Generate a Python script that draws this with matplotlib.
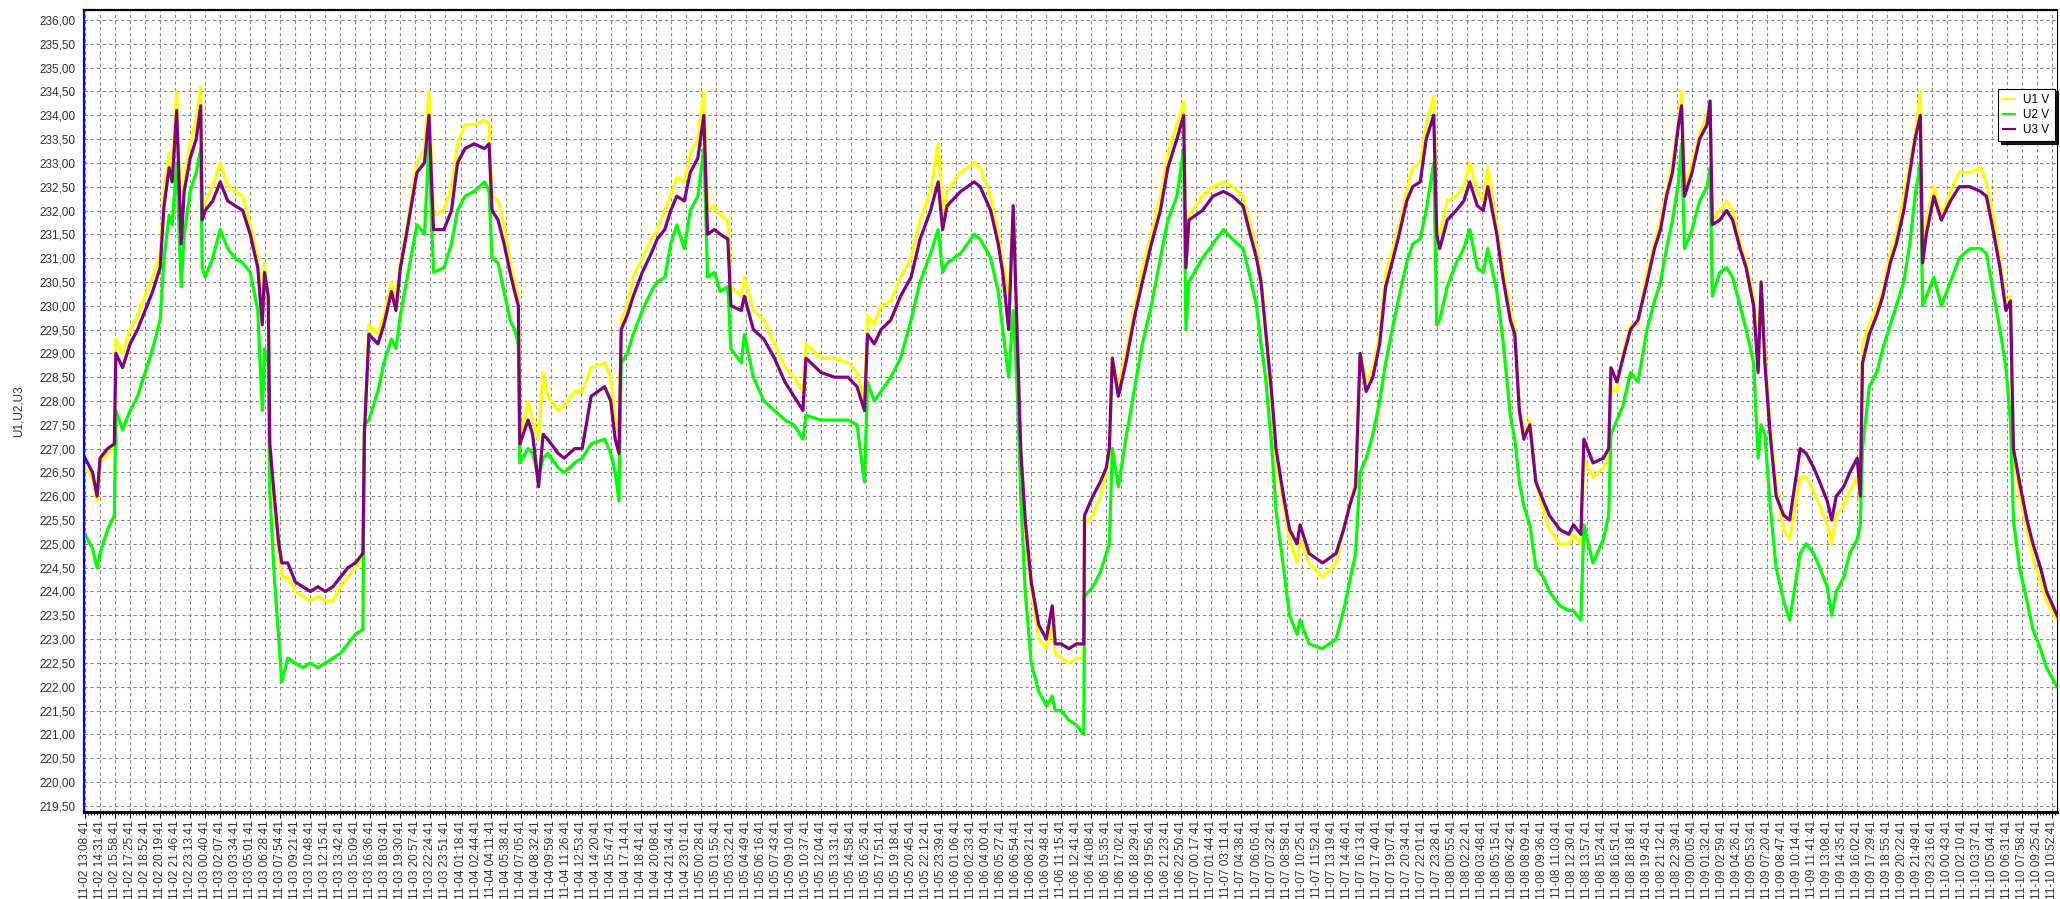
import numpy as np
import matplotlib.pyplot as plt
from matplotlib.ticker import FixedLocator, MultipleLocator

# tick labels (one every ~87 min)
tick_labels = [
    "11-02 13:08:41", "11-02 14:31:41", "11-02 15:58:41", "11-02 17:25:41", "11-02 18:52:41",
    "11-02 20:19:41", "11-02 21:46:41", "11-02 23:13:41",
    "11-03 00:40:41", "11-03 02:07:41", "11-03 03:34:41", "11-03 05:01:41", "11-03 06:28:41",
    "11-03 07:54:41", "11-03 09:21:41", "11-03 10:48:41", "11-03 12:15:41", "11-03 13:42:41",
    "11-03 15:09:41", "11-03 16:36:41", "11-03 18:03:41", "11-03 19:30:41", "11-03 20:57:41",
    "11-03 22:24:41", "11-03 23:51:41",
    "11-04 01:18:41", "11-04 02:44:41", "11-04 04:11:41", "11-04 05:38:41", "11-04 07:05:41",
    "11-04 08:32:41", "11-04 09:59:41", "11-04 11:26:41", "11-04 12:53:41", "11-04 14:20:41",
    "11-04 15:47:41", "11-04 17:14:41", "11-04 18:41:41", "11-04 20:08:41", "11-04 21:34:41",
    "11-04 23:01:41",
    "11-05 00:28:41", "11-05 01:55:41", "11-05 03:22:41", "11-05 04:49:41", "11-05 06:16:41",
    "11-05 07:43:41", "11-05 09:10:41", "11-05 10:37:41", "11-05 12:04:41", "11-05 13:31:41",
    "11-05 14:58:41", "11-05 16:25:41", "11-05 17:51:41", "11-05 19:18:41", "11-05 20:45:41",
    "11-05 22:12:41", "11-05 23:39:41",
    "11-06 01:06:41", "11-06 02:33:41", "11-06 04:00:41", "11-06 05:27:41", "11-06 06:54:41",
    "11-06 08:21:41", "11-06 09:48:41", "11-06 11:15:41", "11-06 12:41:41", "11-06 14:08:41",
    "11-06 15:35:41", "11-06 17:02:41", "11-06 18:29:41", "11-06 19:56:41", "11-06 21:23:41",
    "11-06 22:50:41",
    "11-07 00:17:41", "11-07 01:44:41", "11-07 03:11:41", "11-07 04:38:41", "11-07 06:05:41",
    "11-07 07:32:41", "11-07 08:58:41", "11-07 10:25:41", "11-07 11:52:41", "11-07 13:19:41",
    "11-07 14:46:41", "11-07 16:13:41", "11-07 17:40:41", "11-07 19:07:41", "11-07 20:34:41",
    "11-07 22:01:41", "11-07 23:28:41",
    "11-08 00:55:41", "11-08 02:22:41", "11-08 03:48:41", "11-08 05:15:41", "11-08 06:42:41",
    "11-08 08:09:41", "11-08 09:36:41", "11-08 11:03:41", "11-08 12:30:41", "11-08 13:57:41",
    "11-08 15:24:41", "11-08 16:51:41", "11-08 18:18:41", "11-08 19:45:41", "11-08 21:12:41",
    "11-08 22:39:41",
    "11-09 00:05:41", "11-09 01:32:41", "11-09 02:59:41", "11-09 04:26:41", "11-09 05:53:41",
    "11-09 07:20:41", "11-09 08:47:41", "11-09 10:14:41", "11-09 11:41:41", "11-09 13:08:41",
    "11-09 14:35:41", "11-09 16:02:41", "11-09 17:29:41", "11-09 18:55:41", "11-09 20:22:41",
    "11-09 21:49:41", "11-09 23:16:41",
    "11-10 00:43:41", "11-10 02:10:41", "11-10 03:37:41", "11-10 05:04:41", "11-10 06:31:41",
    "11-10 07:58:41", "11-10 09:25:41", "11-10 10:52:41",
]

# sample position, in units of the label interval (label i sits at i)
pos = [
    0.0, 0.5, 0.8, 1.0, 1.5, 1.95, 2.05, 2.5, 3.0, 3.5, 4.0, 4.5, 5.0, 5.26, 5.6, 5.8, 6.1, 6.4, 6.6,
    7.0, 7.4, 7.7, 7.8, 8.0, 8.5, 9.0, 9.5, 10.0, 10.5, 11.0, 11.5, 11.8, 11.95, 12.2, 12.3, 12.6,
    12.9, 13.1, 13.5, 14.0, 14.5, 15.0, 15.5, 16.0, 16.5, 17.0, 17.5, 18.0, 18.5, 18.6, 18.9, 19.5,
    19.9, 20.4, 20.7, 21.0, 21.4, 22.1, 22.6, 22.9, 23.2, 23.9, 24.4, 24.8, 25.3, 25.9, 26.6, 26.9,
    27.1, 27.5, 27.9, 28.3, 28.6, 28.85, 28.95, 29.5, 29.8, 30.2, 30.5, 30.8, 31.5, 31.9, 32.6, 33.1,
    33.7, 34.6, 35.0, 35.3, 35.55, 35.7, 36.1, 36.5, 37.1, 37.7, 38.1, 38.6, 39.0, 39.4, 39.9, 40.3,
    40.8, 41.2, 41.45, 41.9, 42.3, 42.8, 43.0, 43.7, 43.9, 44.5, 45.2, 45.9, 46.6, 47.2, 47.8, 48.0,
    49.0, 49.9, 50.8, 51.4, 51.9, 52.1, 52.55, 53.0, 53.65, 54.3, 55.0, 55.6, 56.3, 56.8, 57.1, 57.4,
    58.3, 59.2, 59.6, 60.3, 60.8, 61.1, 61.5, 61.8, 62.1, 62.3, 62.6, 63.0, 63.5, 64.0, 64.4, 64.6,
    65.0, 65.5, 66.0, 66.5, 66.55, 67.1, 67.6, 68.0, 68.2, 68.4, 68.8, 69.3, 69.9, 70.4, 71.0, 71.6,
    72.1, 72.7, 73.15, 73.3, 73.5, 74.4, 75.1, 75.8, 76.4, 77.1, 77.5, 78.0, 78.3, 78.6, 79.0, 79.3,
    79.8, 80.2, 80.7, 80.9, 81.5, 82.4, 83.3, 83.8, 84.2, 84.6, 84.9, 85.3, 85.75, 86.2, 86.6, 87.1,
    87.5, 88.0, 88.4, 88.9, 89.3, 89.8, 90.0, 90.2, 90.7, 91.3, 91.8, 92.2, 92.7, 93.1, 93.4, 94.0,
    94.4, 94.9, 95.2, 95.5, 95.8, 96.2, 96.6, 97.1, 97.5, 98.2, 98.8, 99.1, 99.6, 99.8, 100.4, 101.1,
    101.45, 101.6, 102.0, 102.4, 102.9, 103.4, 104.0, 104.5, 104.9, 105.3, 105.7, 106.1, 106.3,
    106.5, 107.0, 107.5, 108.0, 108.2, 108.35, 108.85, 109.3, 109.7, 110.2, 110.6, 111.1, 111.4,
    111.6, 111.85, 112.2, 112.6, 113.1, 113.5, 114.2, 114.6, 115.1, 115.5, 116.0, 116.3, 116.6,
    117.1, 117.5, 118.0, 118.2, 118.35, 118.8, 119.3, 119.7, 120.2, 120.6, 121.1, 121.5, 121.85,
    122.2, 122.35, 122.6, 123.1, 123.6, 124.2, 124.8, 125.5, 126.2, 126.6, 127.1, 127.5, 127.9,
    128.2, 128.4, 128.8, 129.3, 129.7, 130.2, 130.6, 131.3,
]

u1 = [
    226.6, 226.4, 225.9, 226.7, 226.9, 227.0, 229.3, 229.0, 229.5, 229.8, 230.2, 230.6, 231.1, 232.4, 233.2, 232.9, 234.5, 231.5, 232.7,
    233.4, 233.9, 234.6, 232.0, 232.2, 232.5, 233.0, 232.5, 232.4, 232.3, 231.7, 231.0, 229.8, 230.9, 230.0, 227.2, 225.8,
    224.8, 224.3, 224.3, 224.0, 223.9, 223.8, 223.9, 223.8, 223.8, 224.1, 224.3, 224.5, 224.7, 227.3, 229.6, 229.4,
    229.8, 230.5, 230.1, 230.9, 231.6, 233.0, 233.3, 234.5, 231.9, 232.0, 232.5, 233.4, 233.8, 233.8, 233.9, 233.8,
    232.3, 232.2, 231.7, 230.9, 230.5, 230.2, 227.2, 228.0, 227.6, 227.2, 228.6, 228.1, 227.8, 227.9, 228.2, 228.2,
    228.7, 228.8, 228.5, 227.6, 227.3, 229.7, 230.0, 230.6, 231.0, 231.4, 231.6, 232.0, 232.3, 232.7, 232.6, 233.2,
    233.5, 234.5, 232.0, 232.1, 231.9, 231.8, 230.4, 230.2, 230.6, 229.9, 229.7, 229.2, 228.7, 228.5, 228.2, 229.2,
    228.9, 228.9, 228.8, 228.6, 228.0, 229.8, 229.6, 230.0, 230.1, 230.6, 231.0, 231.8, 232.4, 233.4, 231.9, 232.4,
    232.8, 233.0, 232.9, 232.3, 231.5, 230.9, 230.2, 232.0, 229.0, 227.0, 225.3, 224.0, 223.0, 222.8, 223.3, 222.7,
    222.6, 222.5, 222.6, 222.6, 225.4, 225.6, 226.0, 226.5, 226.9, 228.9, 228.3, 229.0, 230.0, 230.8, 231.5, 232.3,
    233.2, 233.8, 234.3, 230.9, 231.9, 232.3, 232.5, 232.6, 232.5, 232.3, 231.8, 231.2, 230.6, 229.6, 228.0, 226.8,
    225.8, 225.1, 224.6, 225.1, 224.6, 224.3, 224.6, 225.3, 225.8, 226.3, 229.0, 228.4, 228.7, 229.4, 230.7, 231.2,
    231.7, 232.4, 232.9, 233.0, 233.8, 234.4, 231.6, 231.5, 232.2, 232.3, 232.5, 233.0, 232.4, 232.2, 232.9, 231.7,
    230.8, 229.9, 229.5, 227.9, 227.3, 227.6, 226.3, 225.7, 225.3, 225.0, 225.0, 225.2, 225.0, 226.8, 226.4, 226.6,
    226.8, 228.3, 228.2, 229.0, 229.6, 229.6, 230.7, 231.3, 231.8, 232.4, 233.0, 233.9, 234.5,
    232.5, 233.0, 233.6, 234.0, 234.3, 231.8, 232.0, 232.2, 232.0, 231.3, 230.9, 230.2, 228.8,
    230.5, 229.0, 227.5, 226.2, 225.3, 225.1, 226.4, 226.4, 226.1, 225.8, 225.4, 225.0, 225.6,
    225.8, 226.1, 226.4, 225.9, 229.2, 229.6, 230.0, 230.3, 231.1, 231.5, 232.3, 233.0, 233.6,
    234.5, 231.1, 231.8, 232.5, 231.9, 232.4, 232.8, 232.8, 232.9, 232.6, 231.8, 231.0, 230.0,
    230.2, 227.0, 226.0, 225.3, 224.7, 224.2, 223.8, 223.4,
]

u2 = [
    225.2, 224.9, 224.5, 224.8, 225.3, 225.6, 227.8, 227.4, 227.8, 228.1, 228.6, 229.1, 229.7, 231.0, 231.9, 231.7, 233.0, 230.4, 231.5,
    232.4, 232.8, 233.3, 230.8, 230.6, 231.0, 231.6, 231.2, 231.0, 230.9, 230.7, 229.9, 227.8, 229.1, 228.8, 226.1, 224.3,
    223.0, 222.1, 222.6, 222.5, 222.4, 222.5, 222.4, 222.5, 222.6, 222.7, 222.9, 223.1, 223.2, 227.5, 227.6, 228.2,
    228.8, 229.3, 229.1, 229.8, 230.5, 231.7, 231.5, 233.4, 230.7, 230.8, 231.3, 232.0, 232.3, 232.4, 232.6, 232.4,
    231.0, 230.9, 230.3, 229.7, 229.5, 229.2, 226.7, 227.0, 226.9, 226.4, 226.8, 226.9, 226.6, 226.5, 226.7, 226.8,
    227.1, 227.2, 226.9, 226.5, 225.9, 228.8, 229.0, 229.4, 229.9, 230.3, 230.5, 230.6, 231.3, 231.7, 231.2, 232.0,
    232.3, 233.3, 230.6, 230.7, 230.3, 230.4, 229.1, 228.8, 229.4, 228.5, 228.0, 227.8, 227.6, 227.5, 227.2, 227.7,
    227.6, 227.6, 227.6, 227.5, 226.3, 228.4, 228.0, 228.2, 228.5, 228.9, 229.7, 230.5, 231.1, 231.6, 230.7, 230.9,
    231.1, 231.5, 231.4, 231.0, 230.3, 229.5, 228.5, 229.9, 228.0, 226.0, 224.0, 222.5, 221.9, 221.6, 221.8, 221.5,
    221.5, 221.3, 221.2, 221.0, 223.9, 224.1, 224.4, 224.8, 225.0, 227.0, 226.2, 227.2, 228.3, 229.2, 230.0, 231.0,
    231.8, 232.3, 233.3, 229.5, 230.5, 231.0, 231.3, 231.6, 231.4, 231.2, 230.7, 230.0, 229.2, 228.5, 227.1, 225.7,
    224.5, 223.5, 223.1, 223.4, 222.9, 222.8, 223.0, 223.6, 224.2, 224.8, 226.5, 226.8, 227.3, 228.0, 228.8, 229.6,
    230.2, 230.9, 231.3, 231.4, 232.0, 233.0, 229.6, 229.7, 230.4, 230.9, 231.2, 231.6, 230.8, 230.7, 231.2, 230.3,
    229.3, 227.7, 227.2, 226.3, 225.8, 225.4, 224.5, 224.3, 224.0, 223.7, 223.6, 223.6, 223.4, 225.4, 224.6, 225.1,
    225.6, 227.3, 227.6, 227.9, 228.6, 228.4, 229.5, 230.1, 230.5, 231.2, 231.8, 232.6, 233.4,
    231.2, 231.6, 232.2, 232.5, 232.9, 230.2, 230.7, 230.8, 230.6, 230.0, 229.5, 228.8, 226.8,
    227.5, 227.3, 225.8, 224.5, 223.8, 223.4, 224.8, 225.0, 224.8, 224.5, 224.1, 223.5, 224.0,
    224.3, 224.8, 225.1, 225.4, 227.0, 228.3, 228.6, 229.1, 229.6, 230.0, 230.5, 231.3, 232.3,
    233.0, 230.0, 230.2, 230.6, 230.0, 230.5, 231.0, 231.2, 231.2, 231.1, 230.2, 229.5, 228.7,
    227.6, 225.5, 224.5, 223.8, 223.2, 222.8, 222.4, 222.0,
]

u3 = [
    226.8, 226.5, 226.0, 226.8, 227.0, 227.1, 229.0, 228.7, 229.2, 229.5, 229.9, 230.3, 230.8, 232.1, 232.9, 232.6, 234.1, 231.3, 232.4,
    233.1, 233.5, 234.2, 231.8, 232.0, 232.2, 232.6, 232.2, 232.1, 232.0, 231.5, 230.8, 229.6, 230.7, 230.2, 227.1, 226.0,
    225.0, 224.6, 224.6, 224.2, 224.1, 224.0, 224.1, 224.0, 224.1, 224.3, 224.5, 224.6, 224.8, 227.3, 229.4, 229.2,
    229.6, 230.3, 229.9, 230.8, 231.5, 232.8, 233.0, 234.0, 231.6, 231.6, 232.0, 233.0, 233.3, 233.4, 233.3, 233.4,
    232.0, 231.8, 231.3, 230.7, 230.3, 230.0, 227.1, 227.6, 227.3, 226.2, 227.3, 227.2, 226.9, 226.8, 227.0, 227.0,
    228.1, 228.3, 228.0, 227.2, 226.9, 229.5, 229.8, 230.2, 230.7, 231.1, 231.4, 231.6, 232.0, 232.3, 232.2, 232.8,
    233.1, 234.0, 231.5, 231.6, 231.5, 231.4, 230.0, 229.9, 230.2, 229.5, 229.3, 228.9, 228.4, 228.1, 227.8, 228.9,
    228.6, 228.5, 228.5, 228.3, 227.8, 229.4, 229.2, 229.5, 229.7, 230.2, 230.6, 231.4, 232.0, 232.6, 231.6, 232.1,
    232.4, 232.6, 232.5, 232.0, 231.3, 230.7, 229.5, 232.1, 229.0, 227.0, 225.5, 224.2, 223.3, 223.0, 223.7, 222.9,
    222.9, 222.8, 222.9, 222.9, 225.6, 226.0, 226.3, 226.6, 227.0, 228.9, 228.1, 228.8, 229.8, 230.5, 231.3, 232.0,
    232.9, 233.5, 234.0, 230.8, 231.8, 232.0, 232.3, 232.4, 232.3, 232.1, 231.6, 231.0, 230.5, 229.5, 228.2, 227.0,
    226.0, 225.3, 225.0, 225.4, 224.8, 224.6, 224.8, 225.3, 225.8, 226.2, 229.0, 228.2, 228.5, 229.2, 230.4, 231.0,
    231.5, 232.2, 232.5, 232.6, 233.5, 234.0, 231.5, 231.2, 231.8, 232.0, 232.2, 232.6, 232.1, 232.0, 232.5, 231.5,
    230.6, 229.7, 229.4, 227.8, 227.2, 227.5, 226.3, 225.9, 225.6, 225.3, 225.2, 225.4, 225.2, 227.2, 226.7, 226.8,
    227.0, 228.7, 228.4, 228.9, 229.5, 229.7, 230.5, 231.2, 231.6, 232.3, 232.8, 233.8, 234.2,
    232.3, 232.8, 233.5, 233.8, 234.3, 231.7, 231.8, 232.0, 231.8, 231.2, 230.8, 230.0, 228.6,
    230.5, 228.8, 227.3, 226.0, 225.6, 225.5, 227.0, 226.9, 226.6, 226.3, 225.9, 225.5, 226.0,
    226.2, 226.5, 226.8, 226.0, 228.8, 229.4, 229.8, 230.2, 230.9, 231.3, 232.0, 232.8, 233.5,
    234.0, 230.9, 231.5, 232.3, 231.8, 232.2, 232.5, 232.5, 232.4, 232.3, 231.5, 230.8, 229.9,
    230.1, 227.0, 226.3, 225.5, 225.0, 224.5, 224.0, 223.5,
]

series = [("U1 V", u1, "#ffff00"), ("U2 V", u2, "#00ff00"), ("U3 V", u3, "#800080")]

plt.rcParams['font.family'] = ['Liberation Sans', 'DejaVu Sans']

fig = plt.figure(figsize=(20.6, 8.99), dpi=100)
ax = fig.add_axes([84 / 2060, 87 / 899, 1973 / 2060, 802 / 899])

for name, vals, col in series:
    ax.plot(pos, vals, color=col, lw=2.3, label=name)

ax.set_xlim(-0.07, 131.3)
ax.set_ylim(219.37, 236.21)

ax.xaxis.set_major_locator(FixedLocator(np.arange(len(tick_labels))))
ax.set_xticklabels(tick_labels, rotation=90, fontsize=8.5, color="#303030")
ax.xaxis.set_minor_locator(MultipleLocator(0.2))
ax.yaxis.set_major_locator(MultipleLocator(0.5))
ax.yaxis.set_major_formatter(plt.FuncFormatter(lambda v, p: f"{v:.2f}".replace(".", ",")))
ax.tick_params(axis="y", labelsize=8.5, labelcolor="#303030", length=0, pad=6)
ax.tick_params(axis="x", which="major", length=4, width=0.8, pad=2)
ax.tick_params(axis="x", which="minor", length=2, width=0.6)

ax.grid(True, which="major", color="#8a8a8a", lw=0.8, ls=(0, (3, 2.5)))
ax.set_axisbelow(True)

ax.spines["left"].set_color("#0000ff")
ax.spines["left"].set_linewidth(1.6)
ax.spines["top"].set_linewidth(1.6)
ax.spines["bottom"].set_linewidth(2.2)
ax.spines["right"].set_linewidth(0.8)

ax.set_ylabel("U1,U2,U3", fontsize=8.5, color="#303030", labelpad=11)

leg = ax.legend(loc="upper right", bbox_to_anchor=(0.999, 0.902), fontsize=8.5,
                frameon=True, fancybox=False, shadow={"color": "black", "alpha": 0.9},
                handlelength=1.0, handletextpad=0.7, labelspacing=0.25, borderpad=0.45,
                borderaxespad=0)
leg.get_frame().set_edgecolor("black")
leg.get_frame().set_linewidth(0.8)
for h in leg.get_lines():
    h.set_linewidth(1.5)

fig.savefig("out.png", dpi=100)
